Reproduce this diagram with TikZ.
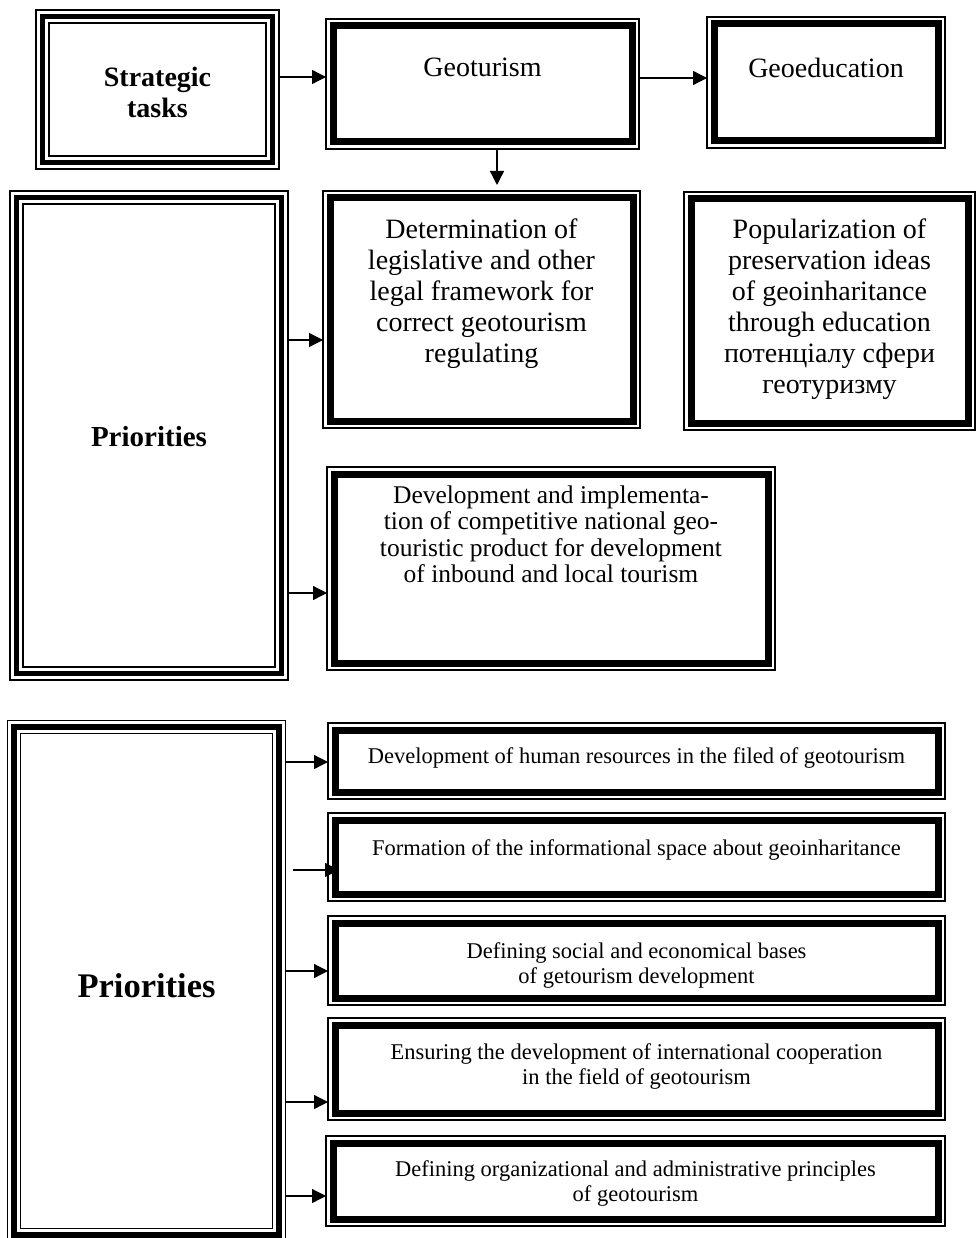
\documentclass[tikz,border=0pt]{standalone}
\usepackage{fontspec}
\setmainfont{Liberation Serif}
\usetikzlibrary{arrows.meta,calc}
\newcommand\boxtext[4]{\parbox[t][#2pt][t]{#1pt}{\centering\vspace*{#3pt}#4}}
\tikzset{
  thinthick/.style={draw, line width=1.3pt, inner sep=0pt, outer sep=0pt,
    path picture={\draw[line width=7pt]
      ([shift={(7pt,-7pt)}]path picture bounding box.north west) rectangle
      ([shift={(-7pt,7pt)}]path picture bounding box.south east);}},
  triple/.style={draw, line width=1.5pt, inner sep=0pt, outer sep=0pt, align=center,
    path picture={\draw[line width=5.5pt]
      ([shift={(6.5pt,-6.5pt)}]path picture bounding box.north west) rectangle
      ([shift={(-6.5pt,6.5pt)}]path picture bounding box.south east);
      \draw[line width=1.5pt]
      ([shift={(13pt,-13pt)}]path picture bounding box.north west) rectangle
      ([shift={(-13pt,13pt)}]path picture bounding box.south east);}},
  arr/.style={line width=1.3pt, -{Triangle[length=14pt,width=14pt]}},
  titlefont/.style={font=\fontsize{28}{29.5}\selectfont},
  bigfont/.style={font=\fontsize{28}{31}\selectfont},
  devfont/.style={font=\fontsize{25.5}{26.5}\selectfont},
  smallfont/.style={font=\fontsize{22.5}{25}\selectfont}
}
\begin{document}
\begin{tikzpicture}[x=1pt,y=-1pt]
\fill[white] (0,0) rectangle (978,1238);
\useasboundingbox (0,0) rectangle (978,1238);

% top row
\node[triple, minimum width=243pt, minimum height=159pt,
      font=\fontsize{28}{31}\selectfont\bfseries] (st) at (157.5,89.5) {\rule{0pt}{25.3pt}Strategic\\tasks};
\node[thinthick, titlefont] (geo) at (482.5,84) {\boxtext{313}{130}{39}{Geoturism}};
\node[thinthick, titlefont] (edu) at (826,82.5) {\boxtext{238}{131}{41}{Geoeducation}};

% first priorities block
\node[triple, minimum width=278pt, minimum height=489pt,
      font=\fontsize{29}{31}\selectfont\bfseries] (pr1) at (149,435.5) {\rule{0pt}{23pt}Priorities};
\node[thinthick, bigfont] (det) at (481.5,309.5) {\boxtext{317}{237}{27.4}{Determination of\\legislative and other\\legal framework for\\correct geotourism\\regulating}};
\node[thinthick, bigfont] (pop) at (829.5,311) {\boxtext{291}{238}{27}{Popularization of\\preservation ideas\\of geoinharitance\\through education\\потенціалу сфери\\геотуризму}};
\node[thinthick, devfont] (dev) at (551,568.5) {\boxtext{448}{203}{18.6}{Development and implementa-\\tion of competitive national geo-\\touristic product for development\\of inbound and local tourism}};

% second priorities block
\node[triple, minimum width=278pt, minimum height=521pt,
      font=\fontsize{34.5}{36}\selectfont\bfseries] (pr2) at (146.5,981) {\rule{0pt}{34pt}Priorities};
\node[thinthick, smallfont] (b1) at (636.5,761) {\boxtext{617}{76}{25}{Development of human resources in the filed of geotourism}};
\node[thinthick, smallfont] (b2) at (636.5,857) {\boxtext{617}{88}{26.6}{Formation of the informational space about geoinharitance}};
\node[thinthick, smallfont] (b3) at (636.5,960.5) {\boxtext{617}{89}{26.3}{Defining social and economical bases\\of getourism development}};
\node[thinthick, smallfont] (b4) at (636.5,1069) {\boxtext{617}{102}{25.3}{Ensuring the development of international cooperation\\in the field of geotourism}};
\node[thinthick, smallfont] (b5) at (635.5,1181) {\boxtext{619}{90}{24.3}{Defining organizational and administrative principles\\of geotourism}};

% connectors
\draw[arr] ($(st.east)+(0pt,12.5pt)$) coordinate (a1) -- (a1 -| geo.west);
\draw[arr] ($(geo.east)+(0pt,6pt)$) coordinate (a2) -- (a2 -| edu.west);
\draw[arr] ($(geo.south)+(14.5pt,0pt)$) coordinate (a3) -- ($(a3 |- det.north)+(0pt,6pt)$);
\draw[arr] ($(pr1.east)+(0pt,95.5pt)$) coordinate (a4) -- (a4 -| det.west);
\draw[arr] ($(pr1.east)+(0pt,-157.5pt)$) coordinate (a5) -- (a5 -| dev.west);
\draw[arr] ($(pr2.east)+(0pt,219pt)$) coordinate (a6) -- (a6 -| b1.west);
\draw[arr] ($(pr2.east)+(7pt,111pt)$) coordinate (a7) -- ($(a7 -| b2.west)+(11pt,0pt)$);
\draw[arr] ($(pr2.east)+(0pt,10pt)$) coordinate (a8) -- (a8 -| b3.west);
\draw[arr] ($(pr2.east)+(0pt,-121pt)$) coordinate (a9) -- (a9 -| b4.west);
\draw[arr] ($(pr2.east)+(0pt,-215pt)$) coordinate (a10) -- (a10 -| b5.west);
\end{tikzpicture}
\end{document}
